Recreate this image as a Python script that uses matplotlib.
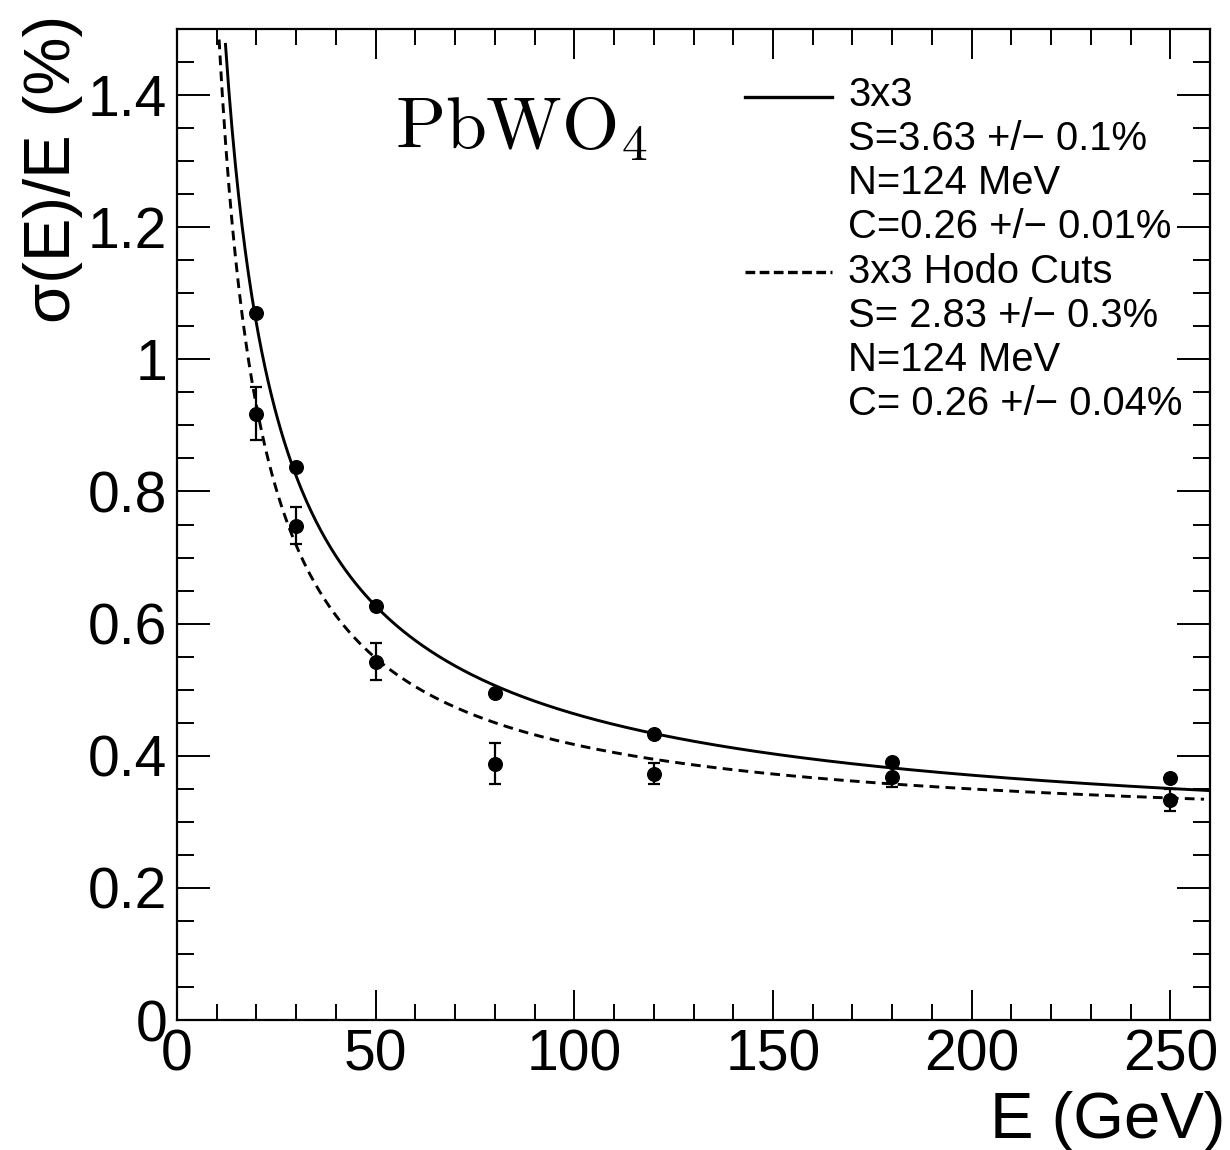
import numpy as np
import matplotlib
matplotlib.use("Agg")
import matplotlib.pyplot as plt
from matplotlib.ticker import MultipleLocator

# ---------------- data ----------------
energy = [20, 30, 50, 80, 120, 180, 250]               # GeV
res_3x3 = [1.07, 0.837, 0.627, 0.495, 0.433, 0.391, 0.366]   # sigma(E)/E (%)
res_hodo = [0.918, 0.748, 0.542, 0.388, 0.373, 0.368, 0.333]
err_hodo = [0.040, 0.028, 0.028, 0.031, 0.016, 0.015, 0.017]

# fit parameters (stochastic %, noise GeV, constant %) and fit ranges
fit_S = [3.63, 2.83]
fit_N = [0.124, 0.124]
fit_C = [0.26, 0.28]
fit_lo = [12.2, 10.6]
fit_hi = [260.0, 258.5]

legend_lines = ["3x3", "S=3.63 +/\u2212 0.1%", "N=124 MeV", "C=0.26 +/\u2212 0.01%",
                "3x3 Hodo Cuts", "S= 2.83 +/\u2212 0.3%", "N=124 MeV", "C= 0.26 +/\u2212 0.04%"]
xticks = [0, 50, 100, 150, 200, 250]
yticks = [0, 0.2, 0.4, 0.6, 0.8, 1.0, 1.2, 1.4]
ytick_labels = ["0", "0.2", "0.4", "0.6", "0.8", "1", "1.2", "1.4"]

# ---------------- style ----------------
plt.rcParams['font.family'] = ['Liberation Sans', 'DejaVu Sans']
plt.rcParams['mathtext.fontset'] = 'cm'
plt.rcParams['lines.scale_dashes'] = False

W, H = 1230, 1150
fig = plt.figure(figsize=(W / 100, H / 100), dpi=100)
ax = fig.add_axes([177 / W, (H - 1020) / H, (1210 - 177) / W, 991 / H])

def resolution(E, S, N, C):
    return np.sqrt(S ** 2 / E + (100 * N / E) ** 2 + C ** 2)

styles = [dict(ls='-'), dict(dashes=(7, 4.5))]
for i in range(2):
    E = np.linspace(fit_lo[i], fit_hi[i], 600)
    ax.plot(E, resolution(E, fit_S[i], fit_N[i], fit_C[i]), color='black', lw=2.1,
            **styles[i])

ax.plot(energy, res_3x3, 'o', color='black', ms=9.8, zorder=5)
ax.errorbar(energy, res_hodo, yerr=err_hodo, fmt='o', color='black', ms=9.8,
            elinewidth=1.6, capsize=4, capthick=1.6, zorder=5)

ax.set_xlim(0, 260)
ax.set_ylim(0, 1.5)
ax.set_xticks(xticks)
ax.set_yticks(yticks)
ax.set_yticklabels(ytick_labels)
ax.xaxis.set_minor_locator(MultipleLocator(10))
ax.yaxis.set_minor_locator(MultipleLocator(0.05))
ax.tick_params(which='both', direction='in', top=True, right=True, width=1.4,
               labelsize=41, colors='black')
ax.tick_params(axis='x', which='major', length=21.5, pad=6)
ax.tick_params(axis='x', which='minor', length=11.5)
ax.tick_params(axis='y', which='major', length=23.5, pad=7)
ax.tick_params(axis='y', which='minor', length=12)
for sp in ax.spines.values():
    sp.set_linewidth(1.6)

# axis titles (ROOT style, aligned at axis ends)
ax.text((1225 - 177) / 1033, (1020 - 1138) / 991, "E (GeV)", fontsize=47,
        ha='right', va='baseline', transform=ax.transAxes)
ax.text((83 - 177) / 1033, (1020 - 15) / 991, "\u03c3(E)/E (%)", fontsize=47,
        rotation=90, ha='right', va='top', transform=ax.transAxes)

# material label
ax.text((395 - 177) / 1033, (1020 - 148) / 991, r'$\mathrm{PbWO}_4$', fontsize=53,
        ha='left', va='baseline', transform=ax.transAxes)

# legend (manual, ROOT TLegend-like)
x_line0, x_line1, x_text = (745 - 177) / 1033, (832 - 177) / 1033, (848 - 177) / 1033
baselines = [106 + k * 44.14 for k in range(8)]
for k, txt in enumerate(legend_lines):
    ax.text(x_text, (1020 - baselines[k]) / 991, txt, fontsize=28.8, ha='left',
            va='baseline', transform=ax.transAxes)
ax.plot([x_line0, x_line1], [(1020 - 97) / 991] * 2, color='black', lw=2.4,
        transform=ax.transAxes, clip_on=False)
ax.plot([x_line0, x_line1], [(1020 - 272) / 991] * 2, color='black', lw=2.4,
        dashes=(7, 3.2), transform=ax.transAxes, clip_on=False)

fig.savefig("out.png", dpi=100)
